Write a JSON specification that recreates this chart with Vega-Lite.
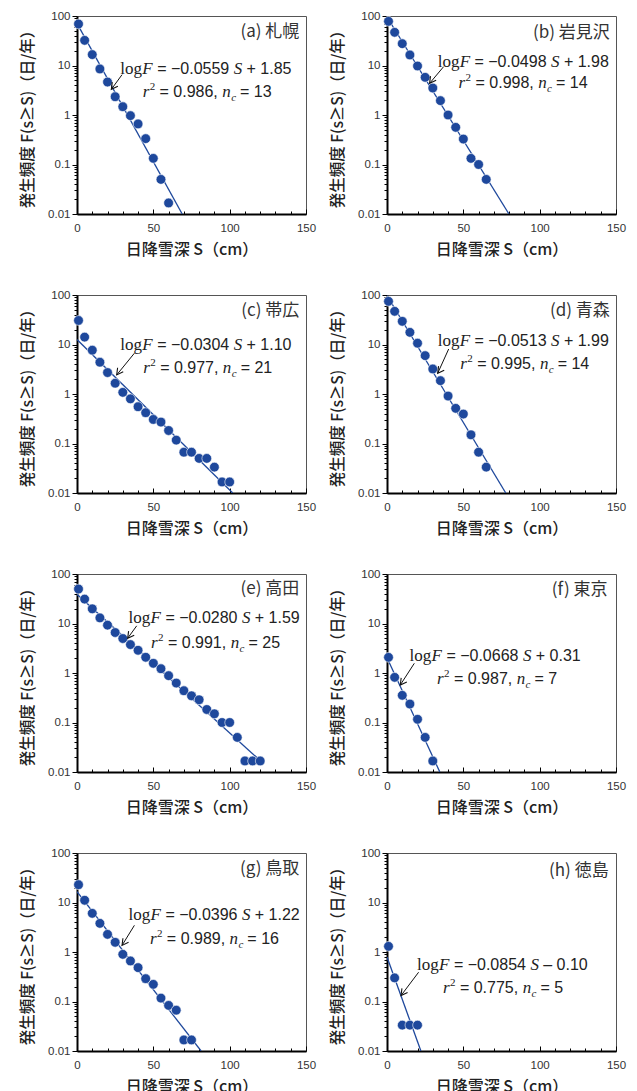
{
  "$schema": "https://vega.github.io/schema/vega-lite/v6.json",
  "padding": {"left": 20, "top": 9, "right": 5, "bottom": 5},
  "background": "white",
  "config": {
    "view": {"stroke": "#555", "strokeWidth": 1},
    "text": {"color": "#222"},
    "header": {"labels": false, "title": null, "labelExpr": "''", "labelFontSize": 0, "labelPadding": 0, "titlePadding": 0},
    "headerFacet": {"labels": false, "title": null, "labelExpr": "''", "labelFontSize": 0, "labelPadding": 0, "titlePadding": 0}
  },
  "data": {"values": [
    {"p":"a","k":"fit","S":0,"F":70.8},{"p":"a","k":"fit","S":68.9,"F":0.01},
    {"p":"b","k":"fit","S":0,"F":95.5},{"p":"b","k":"fit","S":79.9,"F":0.01},
    {"p":"c","k":"fit","S":0,"F":12.6},{"p":"c","k":"fit","S":102.0,"F":0.01},
    {"p":"d","k":"fit","S":0,"F":97.7},{"p":"d","k":"fit","S":77.8,"F":0.01},
    {"p":"e","k":"fit","S":0,"F":38.9},{"p":"e","k":"fit","S":120,"F":0.017},
    {"p":"f","k":"fit","S":0,"F":2.04},{"p":"f","k":"fit","S":34.6,"F":0.01},
    {"p":"g","k":"fit","S":0,"F":16.6},{"p":"g","k":"fit","S":81.3,"F":0.01},
    {"p":"h","k":"fit","S":0,"F":0.794},{"p":"h","k":"fit","S":22.2,"F":0.01},

    {"p":"a","k":"pt","S":1,"F":68.9},{"p":"a","k":"pt","S":5,"F":32.2},{"p":"a","k":"pt","S":10,"F":16.6},{"p":"a","k":"pt","S":15,"F":8.5},{"p":"a","k":"pt","S":20,"F":4.64},{"p":"a","k":"pt","S":25,"F":2.34},{"p":"a","k":"pt","S":30,"F":1.47},{"p":"a","k":"pt","S":35,"F":0.97},{"p":"a","k":"pt","S":40,"F":0.66},{"p":"a","k":"pt","S":45,"F":0.333},{"p":"a","k":"pt","S":50,"F":0.133},{"p":"a","k":"pt","S":55,"F":0.05},{"p":"a","k":"pt","S":60,"F":0.0167},

    {"p":"b","k":"pt","S":1,"F":78},{"p":"b","k":"pt","S":5,"F":46.8},{"p":"b","k":"pt","S":10,"F":27.6},{"p":"b","k":"pt","S":15,"F":16.3},{"p":"b","k":"pt","S":20,"F":9.77},{"p":"b","k":"pt","S":25,"F":5.77},{"p":"b","k":"pt","S":30,"F":3.51},{"p":"b","k":"pt","S":35,"F":1.95},{"p":"b","k":"pt","S":40,"F":1.0},{"p":"b","k":"pt","S":45,"F":0.563},{"p":"b","k":"pt","S":50,"F":0.327},{"p":"b","k":"pt","S":55,"F":0.133},{"p":"b","k":"pt","S":60,"F":0.1},{"p":"b","k":"pt","S":65,"F":0.05},

    {"p":"c","k":"pt","S":1,"F":30.6},{"p":"c","k":"pt","S":5,"F":14.1},{"p":"c","k":"pt","S":10,"F":7.67},{"p":"c","k":"pt","S":15,"F":4.38},{"p":"c","k":"pt","S":20,"F":2.71},{"p":"c","k":"pt","S":25,"F":1.65},{"p":"c","k":"pt","S":30,"F":1.08},{"p":"c","k":"pt","S":35,"F":0.8},{"p":"c","k":"pt","S":40,"F":0.553},{"p":"c","k":"pt","S":45,"F":0.419},{"p":"c","k":"pt","S":50,"F":0.306},{"p":"c","k":"pt","S":55,"F":0.271},{"p":"c","k":"pt","S":60,"F":0.183},{"p":"c","k":"pt","S":65,"F":0.117},{"p":"c","k":"pt","S":70,"F":0.0667},{"p":"c","k":"pt","S":75,"F":0.0667},{"p":"c","k":"pt","S":80,"F":0.05},{"p":"c","k":"pt","S":85,"F":0.05},{"p":"c","k":"pt","S":90,"F":0.0333},{"p":"c","k":"pt","S":95,"F":0.0167},{"p":"c","k":"pt","S":100,"F":0.0167},

    {"p":"d","k":"pt","S":1,"F":74.5},{"p":"d","k":"pt","S":5,"F":46.8},{"p":"d","k":"pt","S":10,"F":29.4},{"p":"d","k":"pt","S":15,"F":17.6},{"p":"d","k":"pt","S":20,"F":10.6},{"p":"d","k":"pt","S":25,"F":5.95},{"p":"d","k":"pt","S":30,"F":3.2},{"p":"d","k":"pt","S":35,"F":1.86},{"p":"d","k":"pt","S":40,"F":0.91},{"p":"d","k":"pt","S":45,"F":0.513},{"p":"d","k":"pt","S":50,"F":0.394},{"p":"d","k":"pt","S":55,"F":0.15},{"p":"d","k":"pt","S":60,"F":0.0667},{"p":"d","k":"pt","S":65,"F":0.0333},

    {"p":"e","k":"pt","S":1,"F":49.7},{"p":"e","k":"pt","S":5,"F":31.1},{"p":"e","k":"pt","S":10,"F":19.8},{"p":"e","k":"pt","S":15,"F":13.0},{"p":"e","k":"pt","S":20,"F":9.25},{"p":"e","k":"pt","S":25,"F":6.57},{"p":"e","k":"pt","S":30,"F":4.97},{"p":"e","k":"pt","S":35,"F":3.75},{"p":"e","k":"pt","S":40,"F":2.88},{"p":"e","k":"pt","S":45,"F":2.08},{"p":"e","k":"pt","S":50,"F":1.57},{"p":"e","k":"pt","S":55,"F":1.22},{"p":"e","k":"pt","S":60,"F":0.883},{"p":"e","k":"pt","S":65,"F":0.627},{"p":"e","k":"pt","S":70,"F":0.438},{"p":"e","k":"pt","S":75,"F":0.347},{"p":"e","k":"pt","S":80,"F":0.288},{"p":"e","k":"pt","S":85,"F":0.183},{"p":"e","k":"pt","S":90,"F":0.15},{"p":"e","k":"pt","S":95,"F":0.1},{"p":"e","k":"pt","S":100,"F":0.1},{"p":"e","k":"pt","S":105,"F":0.05},{"p":"e","k":"pt","S":110,"F":0.0167},{"p":"e","k":"pt","S":115,"F":0.0167},{"p":"e","k":"pt","S":120,"F":0.0167},

    {"p":"f","k":"pt","S":1,"F":2.07},{"p":"f","k":"pt","S":5,"F":0.817},{"p":"f","k":"pt","S":10,"F":0.354},{"p":"f","k":"pt","S":15,"F":0.236},{"p":"f","k":"pt","S":20,"F":0.116},{"p":"f","k":"pt","S":25,"F":0.05},{"p":"f","k":"pt","S":30,"F":0.0167},

    {"p":"g","k":"pt","S":1,"F":22.9},{"p":"g","k":"pt","S":5,"F":11.1},{"p":"g","k":"pt","S":10,"F":6.04},{"p":"g","k":"pt","S":15,"F":3.79},{"p":"g","k":"pt","S":20,"F":2.27},{"p":"g","k":"pt","S":25,"F":1.57},{"p":"g","k":"pt","S":30,"F":0.897},{"p":"g","k":"pt","S":35,"F":0.658},{"p":"g","k":"pt","S":40,"F":0.483},{"p":"g","k":"pt","S":45,"F":0.289},{"p":"g","k":"pt","S":50,"F":0.222},{"p":"g","k":"pt","S":55,"F":0.117},{"p":"g","k":"pt","S":60,"F":0.0833},{"p":"g","k":"pt","S":65,"F":0.0667},{"p":"g","k":"pt","S":70,"F":0.0167},{"p":"g","k":"pt","S":75,"F":0.0167},

    {"p":"h","k":"pt","S":1,"F":1.3},{"p":"h","k":"pt","S":5,"F":0.3},{"p":"h","k":"pt","S":10,"F":0.0333},{"p":"h","k":"pt","S":15,"F":0.0333},{"p":"h","k":"pt","S":20,"F":0.0333},

    {"p":"a","k":"arr","S":29.5,"F":6.53,"S2":22.5,"F2":3.3},
    {"p":"b","k":"arr","S":37.1,"F":9.47,"S2":27.9,"F2":4.36},
    {"p":"c","k":"arr","S":37.6,"F":6.67,"S2":26.0,"F2":2.43},
    {"p":"d","k":"arr","S":40.4,"F":8.11,"S2":33.2,"F2":2.62},
    {"p":"e","k":"arr","S":39.1,"F":8.97,"S2":33.2,"F2":5.04},
    {"p":"f","k":"arr","S":17.9,"F":1.57,"S2":8.7,"F2":0.573},
    {"p":"g","k":"arr","S":37.6,"F":3.46,"S2":29.5,"F2":1.36},
    {"p":"h","k":"arr","S":20.7,"F":0.39,"S2":9.2,"F2":0.132},

    {"p":"a","k":"tip","S":22.5,"F":3.3},
    {"p":"b","k":"tip","S":27.9,"F":4.36},
    {"p":"c","k":"tip","S":26.0,"F":2.43},
    {"p":"d","k":"tip","S":33.2,"F":2.62},
    {"p":"e","k":"tip","S":33.2,"F":5.04},
    {"p":"f","k":"tip","S":8.7,"F":0.573},
    {"p":"g","k":"tip","S":29.5,"F":1.36},
    {"p":"h","k":"tip","S":9.2,"F":0.132},

    {"p":"a","k":"ttl","S":145.6,"F":47,"t":"(a) 札幌"},
    {"p":"b","k":"ttl","S":145.9,"F":46,"t":"(b) 岩見沢"},
    {"p":"c","k":"ttl","S":145.6,"F":48,"t":"(c) 帯広"},
    {"p":"d","k":"ttl","S":145.9,"F":47.5,"t":"(d) 青森"},
    {"p":"e","k":"ttl","S":145.6,"F":49,"t":"(e) 高田"},
    {"p":"f","k":"ttl","S":144.5,"F":47,"t":"(f) 東京"},
    {"p":"g","k":"ttl","S":145.6,"F":47.5,"t":"(g) 鳥取"},
    {"p":"h","k":"ttl","S":145.2,"F":43.5,"t":"(h) 徳島"},

    {"p":"a","k":"eq1","S":28.4,"F":6.63,"coef":"= −0.0559","icpt":"+ 1.85"},
    {"p":"b","k":"eq1","S":33.2,"F":9.47,"coef":"= −0.0498","icpt":"+ 1.98"},
    {"p":"c","k":"eq1","S":28.4,"F":7.8,"coef":"= −0.0304","icpt":"+ 1.10"},
    {"p":"d","k":"eq1","S":33.2,"F":9.18,"coef":"= −0.0513","icpt":"+ 1.99"},
    {"p":"e","k":"eq1","S":33.8,"F":10.2,"coef":"= −0.0280","icpt":"+ 1.59"},
    {"p":"f","k":"eq1","S":14.8,"F":1.77,"coef":"= −0.0668","icpt":"+ 0.31"},
    {"p":"g","k":"eq1","S":33.8,"F":4.5,"coef":"= −0.0396","icpt":"+ 1.22"},
    {"p":"h","k":"eq1","S":19.7,"F":0.434,"coef":"= −0.0854","icpt":"– 0.10"},

    {"p":"a","k":"eq2","S":43.0,"F":2.35,"r2":"= 0.986,","nc":"= 13"},
    {"p":"b","k":"eq2","S":46.9,"F":3.46,"r2":"= 0.998,","nc":"= 14"},
    {"p":"c","k":"eq2","S":43.4,"F":2.71,"r2":"= 0.977,","nc":"= 21"},
    {"p":"d","k":"eq2","S":48.0,"F":3.15,"r2":"= 0.995,","nc":"= 14"},
    {"p":"e","k":"eq2","S":48.5,"F":3.16,"r2":"= 0.991,","nc":"= 25"},
    {"p":"f","k":"eq2","S":32.8,"F":0.59,"r2":"= 0.987,","nc":"= 7"},
    {"p":"g","k":"eq2","S":47.8,"F":1.47,"r2":"= 0.989,","nc":"= 16"},
    {"p":"h","k":"eq2","S":36.7,"F":0.149,"r2":"= 0.775,","nc":"= 5"}
  ]},
  "facet": {"field": "p", "type": "nominal", "title": null, "header": {"labels": false, "title": null, "labelExpr": "''", "labelFontSize": 0, "labelPadding": 0, "titlePadding": 0}},
  "columns": 2,
  "spacing": {"row": 81, "column": 81},
  "bounds": "flush",
  "resolve": {"axis": {"x": "independent", "y": "independent"}},
  "spec": {
    "width": 229,
    "height": 198,
    "encoding": {
      "x": {"field": "S", "type": "quantitative",
        "scale": {"domain": [0, 150], "nice": false, "zero": false},
        "axis": {
          "values": [0,10,20,30,40,50,60,70,80,90,100,110,120,130,140,150],
          "labelExpr": "datum.value % 50 === 0 ? datum.label : ''",
          "tickSize": {"condition": {"test": "datum.value % 50 === 0", "value": -5}, "value": -3},
          "grid": false, "labelOverlap": false, "labelFlush": false,
          "domainColor": "#000", "domainWidth": 2, "tickColor": "#000", "tickWidth": 1,
          "labelFont": "Liberation Sans", "labelFontSize": 11.5, "labelColor": "#333", "labelPadding": 13,
          "title": "日降雪深 S（cm）", "titleFont": "Noto Sans CJK JP", "titleFontSize": 16,
          "titleFontWeight": 500, "titleColor": "#222", "titlePadding": 6
        }},
      "y": {"field": "F", "type": "quantitative",
        "scale": {"type": "log", "domain": [0.01, 100], "nice": false},
        "axis": {
          "values": [0.01,0.02,0.03,0.04,0.05,0.06,0.07,0.08,0.09,0.1,0.2,0.3,0.4,0.5,0.6,0.7,0.8,0.9,1,2,3,4,5,6,7,8,9,10,20,30,40,50,60,70,80,90,100],
          "labelExpr": "datum.value === 0.01 ? '0.01' : datum.value === 0.1 ? '0.1' : datum.value === 1 ? '1' : datum.value === 10 ? '10' : datum.value === 100 ? '100' : ''",
          "tickSize": {"condition": {"test": "datum.value === 0.01 || datum.value === 0.1 || datum.value === 1 || datum.value === 10 || datum.value === 100", "value": 5}, "value": 3},
          "grid": false, "labelOverlap": false, "labelFlush": false,
          "domainColor": "#000", "domainWidth": 2, "tickColor": "#000", "tickWidth": 1,
          "labelFont": "Liberation Sans", "labelFontSize": 11.5, "labelColor": "#333", "labelPadding": 2,
          "title": "発生頻度 F(s≥S)（日/年）", "titleFont": "Noto Sans CJK JP", "titleFontSize": 15.5,
          "titleFontWeight": 500, "titleColor": "#222", "titlePadding": 12
        }}
    },
    "layer": [
      {"transform": [{"filter": "datum.k === 'fit'"}],
       "mark": {"type": "line", "color": "#1e489c", "strokeWidth": 1.3, "clip": true},
       "encoding": {}},
      {"transform": [{"filter": "datum.k === 'pt'"}],
       "mark": {"type": "point", "filled": true, "shape": "circle", "size": 95, "color": "#1e489c", "opacity": 1, "stroke": "white", "strokeWidth": 0.6}},
      {"transform": [{"filter": "datum.k === 'arr'"}],
       "mark": {"type": "rule", "color": "#111", "strokeWidth": 1},
       "encoding": {"x2": {"field": "S2"}, "y2": {"field": "F2"}}},
      {"transform": [{"filter": "datum.k === 'tip'"}],
       "mark": {"type": "point", "shape": "M-1,-0.55L0,0L-1,0.55", "filled": false, "size": 160, "stroke": "#111", "strokeWidth": 1.1, "angle": 126, "opacity": 1}},
      {"transform": [{"filter": "datum.k === 'ttl'"}],
       "mark": {"type": "text", "align": "right", "baseline": "middle", "font": "Noto Sans CJK JP", "fontSize": 17, "color": "#333"},
       "encoding": {"text": {"field": "t"}}},

      {"transform": [{"filter": "datum.k === 'eq1'"}],
       "mark": {"type": "text", "text": "log", "align": "left", "baseline": "alphabetic", "font": "Liberation Serif", "fontSize": 17, "color": "#222"}},
      {"transform": [{"filter": "datum.k === 'eq1'"}],
       "mark": {"type": "text", "text": "F", "align": "left", "baseline": "alphabetic", "font": "Liberation Serif", "fontStyle": "italic", "fontSize": 17, "dx": 22, "color": "#222"}},
      {"transform": [{"filter": "datum.k === 'eq1'"}],
       "mark": {"type": "text", "align": "left", "baseline": "alphabetic", "font": "Liberation Sans", "fontSize": 16, "dx": 36.8, "color": "#222"},
       "encoding": {"text": {"field": "coef"}}},
      {"transform": [{"filter": "datum.k === 'eq1'"}],
       "mark": {"type": "text", "text": "S", "align": "left", "baseline": "alphabetic", "font": "Liberation Serif", "fontStyle": "italic", "fontSize": 17, "dx": 113.3, "color": "#222"}},
      {"transform": [{"filter": "datum.k === 'eq1'"}],
       "mark": {"type": "text", "align": "left", "baseline": "alphabetic", "font": "Liberation Sans", "fontSize": 16, "dx": 126.2, "color": "#222"},
       "encoding": {"text": {"field": "icpt"}}},

      {"transform": [{"filter": "datum.k === 'eq2'"}],
       "mark": {"type": "text", "text": "r", "align": "left", "baseline": "alphabetic", "font": "Liberation Serif", "fontStyle": "italic", "fontSize": 17, "color": "#222"}},
      {"transform": [{"filter": "datum.k === 'eq2'"}],
       "mark": {"type": "text", "text": "2", "align": "left", "baseline": "alphabetic", "font": "Liberation Serif", "fontSize": 11, "dx": 7, "dy": -7, "color": "#222"}},
      {"transform": [{"filter": "datum.k === 'eq2'"}],
       "mark": {"type": "text", "align": "left", "baseline": "alphabetic", "font": "Liberation Sans", "fontSize": 16, "dx": 16.9, "color": "#222"},
       "encoding": {"text": {"field": "r2"}}},
      {"transform": [{"filter": "datum.k === 'eq2'"}],
       "mark": {"type": "text", "text": "n", "align": "left", "baseline": "alphabetic", "font": "Liberation Serif", "fontStyle": "italic", "fontSize": 17, "dx": 79.6, "color": "#222"}},
      {"transform": [{"filter": "datum.k === 'eq2'"}],
       "mark": {"type": "text", "text": "c", "align": "left", "baseline": "alphabetic", "font": "Liberation Serif", "fontStyle": "italic", "fontSize": 11, "dx": 88.5, "dy": 4, "color": "#222"}},
      {"transform": [{"filter": "datum.k === 'eq2'"}],
       "mark": {"type": "text", "align": "left", "baseline": "alphabetic", "font": "Liberation Sans", "fontSize": 16, "dx": 97.4, "color": "#222"},
       "encoding": {"text": {"field": "nc"}}}
    ]
  }
}
